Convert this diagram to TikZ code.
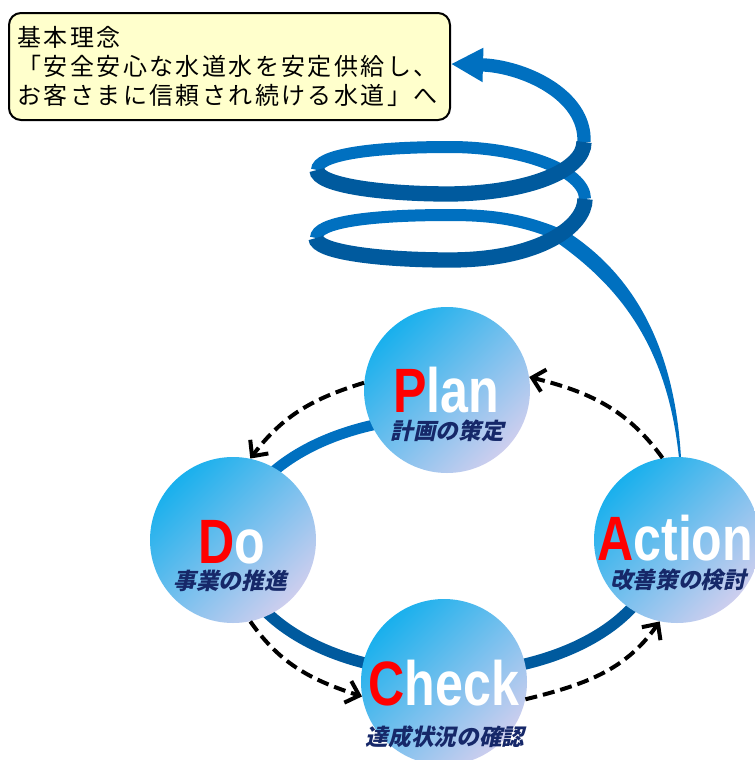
\documentclass[tikz,border=0pt]{standalone}
\usepackage{fontspec}
\usetikzlibrary{positioning, arrows.meta}
\newfontfamily\jpfont[LetterSpace=10]{Noto Sans CJK JP}
\newfontfamily\jpsubfont[FakeSlant=0.22]{Noto Sans CJK JP}
\newfontfamily\pdcafont[FakeStretch=0.8]{Liberation Sans}
\definecolor{spiralhi}{RGB}{0,112,192}
\definecolor{spirallo}{RGB}{0,90,158}
\definecolor{ballhi}{RGB}{25,176,237}
\definecolor{balllo}{RGB}{205,206,238}
\definecolor{subnavy}{RGB}{22,40,105}
\definecolor{notefill}{RGB}{255,255,204}
\newcommand{\redcap}[1]{\textcolor{red}{#1}}

\begin{document}
\begin{tikzpicture}[x=0.75pt, y=0.75pt,
    ball/.style={circle, minimum size=124.5pt, inner sep=0pt, top color=ballhi, bottom color=balllo, shading angle=45},
    pdca/.style={font=\pdcafont\bfseries\fontsize{47}{47}\selectfont, text=white, anchor=base, inner sep=0pt},
    pdcasub/.style={font=\jpsubfont\bfseries\fontsize{17}{17}\selectfont, text=subnavy, inner sep=0pt,
      text height=12pt, text depth=1pt},
    cyclearrow/.style={black, line width=3pt, dash pattern=on 9pt off 4.5pt, -{Straight Barb[length=9pt, width=17pt]}},
    backband/.style={spiralhi, line width=9pt},
    frontband/.style={spirallo, line width=11.5pt},
    notebox/.style={draw=black, line width=1.5pt, fill=notefill, rounded corners=9pt, align=left,
      text width=318pt, inner xsep=5pt, minimum width=330.75pt, minimum height=80.25pt,
      font=\jpfont\fontsize{18}{22}\selectfont}]
\useasboundingbox (0,0) rectangle (755,-760);

% ring behind the balls
\draw[spiralhi, line width=8pt] (447,-545) ++(80:212 and 128) arc[start angle=80, end angle=180, x radius=212, y radius=128];
\draw[spirallo, line width=8.5pt] (447,-545) ++(180:212 and 128) arc[start angle=180, end angle=370, x radius=212, y radius=128];

% spiral going up
\fill[spiralhi] (681,-458) .. controls (674,-336) and (626,-266) .. (558,-226)
  -- (552,-239) .. controls (616,-283) and (667,-342) .. (679,-458) -- cycle;
\draw[backband] (555,-233) .. controls (520,-219) and (490,-215) .. (450,-215)
  .. controls (370,-215) and (316,-222) .. (316,-238);
\draw[backband] (585,-199) .. controls (585,-170) and (520,-147) .. (450,-147)
  .. controls (370,-147) and (317,-155) .. (317,-170);
\draw[backband, line width=10pt, -{Triangle[length=24pt, width=24pt]}] (584,-142) .. controls (586,-94) and (522,-66) .. (451,-64);
\draw[frontband] (316,-238) .. controls (316,-252) and (380,-260) .. (450,-260)
  .. controls (540,-260) and (585,-226) .. (585,-199);
\draw[frontband] (317,-170) .. controls (317,-185) and (380,-194) .. (450,-194)
  .. controls (530,-193) and (584,-170) .. (584,-142);

\node[notebox, anchor=north west] (idea) at (8,-12) {基本理念\\「安全安心な水道水を安定供給し、\\お客さまに信頼され続ける水道」へ};

\node[ball] (plan) at (447,-390) {};
\node[ball] (do) at (233,-540) {};
\node[ball] (check) at (444,-682) {};
\node[ball] (action) at (677,-540) {};

\node[pdca] (planword) at (446,-412) {\redcap{P}lan};
\node[pdca] (doword) at (232,-563) {\redcap{D}o};
\node[pdca, anchor=base west] (actionword) at (597,-560) {\redcap{A}ction};
\node[pdca] (checkword) at (444,-705) {\redcap{C}heck};

\node[pdcasub] (plansub) at (447,-432) {計画の策定};
\node[pdcasub] (dosub) at (230,-582) {事業の推進};
\node[pdcasub] (actionsub) at (678,-581) {改善策の検討};
\node[pdcasub] (checksub) at (445,-738) {達成状況の確認};

\draw[cyclearrow] (plan.175) to[out=197, in=53] (do.78);
\draw[cyclearrow] (do.282) to[out=305, in=162] (check.190);
\draw[cyclearrow] (check.348) to[out=14, in=235] (action.258);
\draw[cyclearrow] (action.100) to[out=126, in=346] (plan.9);
\end{tikzpicture}
\end{document}
